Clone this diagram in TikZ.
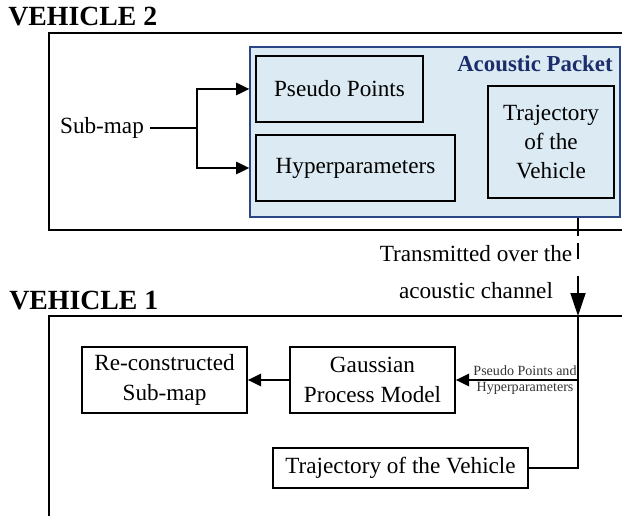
\documentclass[tikz,border=0pt]{standalone}
\usepackage{fontspec}
\setmainfont{Liberation Serif}
\usepackage{tikz}
\usetikzlibrary{arrows.meta}
\definecolor{pktfill}{HTML}{DCEBF3}
\definecolor{pktline}{HTML}{2B4585}
\definecolor{pkttext}{HTML}{1B2D6B}

\begin{document}
\begin{tikzpicture}[x=0.02cm, y=0.02cm,
  font=\fontsize{13.2pt}{16.5pt}\selectfont,
  box/.style={draw=black, line width=1pt, inner sep=0pt, align=center},
  arr/.style={-{Triangle[length=7.5pt,width=7pt]}, line width=1pt}]
\useasboundingbox (0,0) rectangle (622,-516);
\clip (0,0) rectangle (622,-516);
% vehicle 2
\node [anchor=west, inner sep=0pt, font=\fontsize{15.8pt}{18pt}\selectfont\bfseries] (v2name) at (8,-17) {VEHICLE 2};
\draw [black, line width=1pt] (49,-33) rectangle (660,-230);
\node [draw=pktline, fill=pktfill, line width=0.8pt, minimum width=7.4cm, minimum height=3.4cm, inner sep=0pt] (packet) at (435,-132) {};
\node [anchor=east, inner sep=0pt, text=pkttext, font=\fontsize{13pt}{15pt}\selectfont\bfseries] (pkttitle) at (613,-64) {Acoustic Packet};
\node [box, fill=pktfill, minimum width=3.34cm, minimum height=1.32cm] (pp) at (339.5,-89) {Pseudo Points};
\node [box, fill=pktfill, minimum width=3.98cm, minimum height=1.32cm] (hp) at (355.5,-168) {Hyperparameters};
\node [box, fill=pktfill, minimum width=2.52cm, minimum height=2.24cm] (trajpkt) at (551,-142) {Trajectory\\of the\\Vehicle};
\node (submap) at (102,-128) {Sub-map};
\coordinate (fork) at (197,-128);
\draw [line width=1pt] (submap) -- (fork);
\draw [arr] (fork) |- (pp.west -| packet.west);
\draw [arr] (fork) |- (hp.west -| packet.west);
% channel
\coordinate (v1top) at (578,-316);
\draw [line width=1pt, -{Triangle[length=13pt,width=8.5pt]}, dash pattern=on 10.2pt off 4pt on 9.1pt off 9.7pt on 60pt off 0pt] (packet.south -| v1top) -- (v1top);
\node [align=center, font=\fontsize{13.2pt}{21pt}\selectfont] (txlabel) at (476,-272) {Transmitted over the\\acoustic channel};
% vehicle 1
\node [anchor=west, inner sep=0pt, font=\fontsize{15.8pt}{18pt}\selectfont\bfseries] (v1name) at (9,-301) {VEHICLE 1};
\draw [black, line width=1pt] (49,-316) rectangle (660,-530);
\node [box, minimum width=3.3cm, minimum height=1.32cm, font=\fontsize{13.2pt}{17pt}\selectfont] (recon) at (164.5,-380) {Re-constructed\\Sub-map};
\node [box, minimum width=3.3cm, minimum height=1.32cm, font=\fontsize{13.2pt}{17pt}\selectfont] (gpm) at (372.5,-380) {Gaussian\\Process Model};
\node [box, minimum width=5.1cm, minimum height=0.8cm] (traj) at (400.5,-468) {Trajectory of the Vehicle};
\draw [line width=1pt] (v1top) -- (traj.east -| v1top) -- (traj.east);
\draw [arr] (gpm.east -| v1top) -- (gpm.east);
\draw [arr] (gpm.west) -- (recon.east);
\node [align=center, text=black!80, font=\fontsize{8pt}{9pt}\selectfont] (pplabel) at (525,-380) {Pseudo Points and\\Hyperparameters};
\end{tikzpicture}
\end{document}
